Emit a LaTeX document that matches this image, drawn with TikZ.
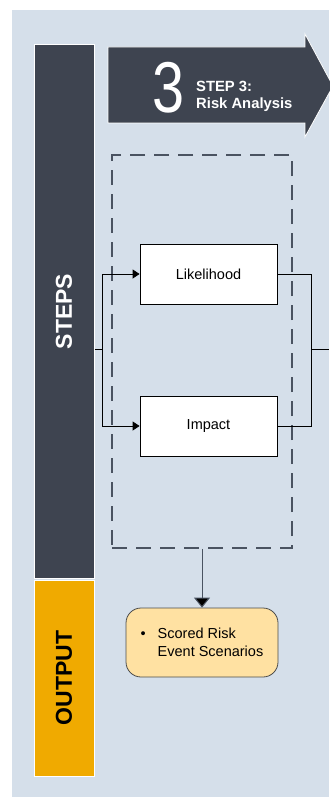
\documentclass[tikz,border=0pt]{standalone}
\usepackage{fontspec}
\setmainfont{Liberation Sans}
\usepackage{graphicx}
\usetikzlibrary{arrows.meta}
\definecolor{paneblue}{HTML}{D5DFEA}
\definecolor{slate}{HTML}{3E4450}
\definecolor{amber}{HTML}{F0AA00}
\definecolor{peach}{HTML}{FFE1A2}
\definecolor{dashgray}{HTML}{4A5361}
\begin{document}
\begin{tikzpicture}[x=1pt, y=-1pt,
    sidebar/.style={rotate=90, draw=white, line width=1pt, minimum height=60pt, font=\fontsize{23}{23}\selectfont\bfseries},
    taskbox/.style={draw, fill=white, line width=0.8pt, minimum width=137pt, minimum height=60pt, font=\fontsize{14.5}{17}\selectfont},
    feed/.style={-{Triangle[width=9pt,length=7pt]}, line width=0.8pt}]
  \useasboundingbox (0,0) rectangle (329,797);
  \fill[paneblue] (12,10) rectangle (329,797);
  % left bars
  \node[sidebar, fill=slate, text=white, minimum width=533pt] (Steps) at (64,311.5) {STEPS};
  \node[sidebar, fill=amber, text=black, minimum width=196pt] (Output) at (64,678) {OUTPUT};
  % step banner
  \draw[white, line width=0.8pt, fill=slate] (108,47) -- (305,47) -- (305,34) -- (333,86) -- (305,137) -- (305,123) -- (108,123) -- cycle;
  \node[text=white, font=\fontsize{72}{72}\selectfont, inner sep=0pt] (Num) at (169,88) {\scalebox{0.8}[1]{3}};
  \node[text=white, font=\fontsize{14.8}{17}\selectfont\bfseries, align=left, anchor=west, inner sep=0pt] (Title) at (196,96) {STEP 3:\\Risk Analysis};
  % analysis group
  \node[draw=dashgray, dash pattern=on 15pt off 9pt, line width=1.6pt, minimum width=180pt, minimum height=393pt] (Analysis) at (202,351.5) {};
  \node[taskbox] (Like) at (208.5,274) {Likelihood};
  \node[taskbox] (Imp) at (208.5,426) {Impact};
  \coordinate (split) at (102,349);
  \coordinate (merge) at (311,349);
  \coordinate (exit) at (329,349);
  \draw[line width=0.8pt] (Steps.south |- split) -- (split);
  \draw[feed] (split) |- (Like.west);
  \draw[feed] (split) |- (Imp.west);
  \draw[line width=0.8pt] (Like.east) -| (merge);
  \draw[line width=0.8pt] (Imp.east) -| (merge);
  \draw[line width=0.8pt] (merge) -- (exit);
  % output
  \node[draw=black!70, fill=peach, line width=0.8pt, rounded corners=15pt, minimum width=152pt, minimum height=69pt, align=left, font=\fontsize{14.5}{18}\selectfont] (Result) at (202,642.5) {\makebox[17pt][l]{\textbullet}Scored Risk\\\hspace*{17pt}Event Scenarios};
  \draw[dashgray, line width=1pt, -{Triangle[width=16pt,length=10pt,fill=black]}] (Analysis.south) -- (Result.north);
\end{tikzpicture}
\end{document}
